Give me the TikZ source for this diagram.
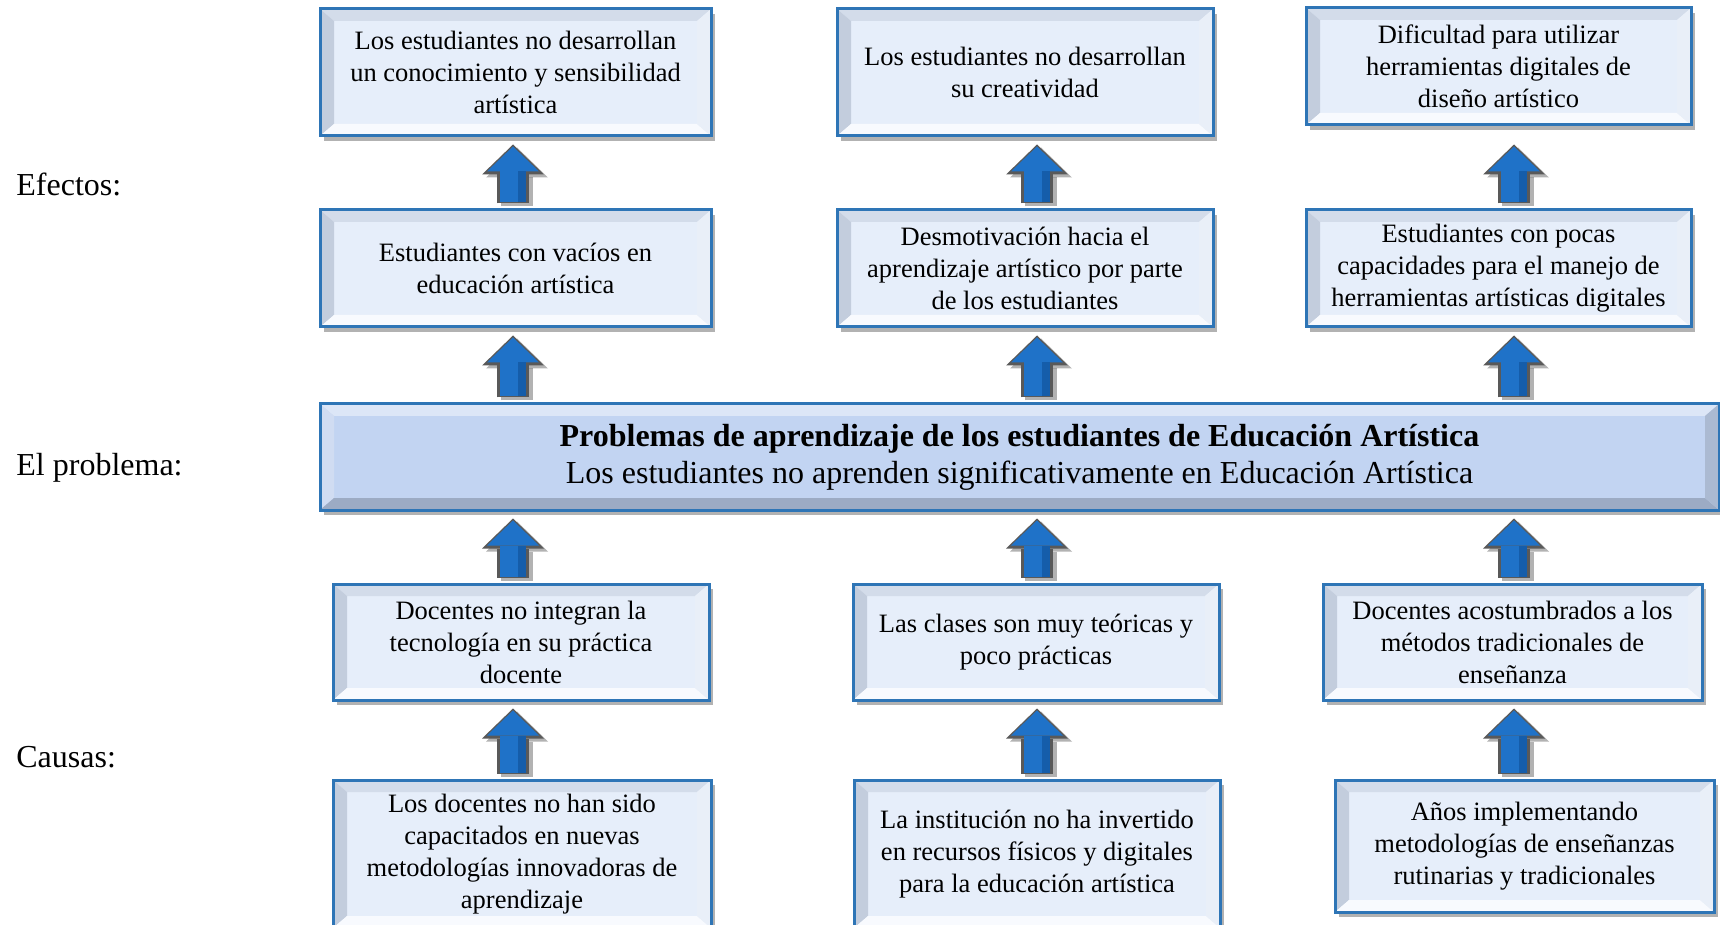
\documentclass[tikz,border=0pt]{standalone}
\usepackage{fontspec}
\setmainfont{Liberation Serif}
\usetikzlibrary{arrows.meta,positioning,shadows}

\definecolor{boxblue}{HTML}{2E75B6}
\definecolor{cardfill}{HTML}{E6EEFA}
\definecolor{cardtop}{HTML}{D3DCEA}
\definecolor{cardleft}{HTML}{C3CDDD}
\definecolor{cardbot}{HTML}{F8FAFE}
\definecolor{cardright}{HTML}{E9EFF8}
\definecolor{probfill}{HTML}{C2D4F2}
\definecolor{probtop}{HTML}{DCE6F7}
\definecolor{probleft}{HTML}{D0DCF2}
\definecolor{probbot}{HTML}{9CABC4}
\definecolor{probright}{HTML}{ABBAD2}
\definecolor{arrowblue}{HTML}{1F72C8}
\definecolor{arrowdeep}{HTML}{0F4F96}

\begin{document}
\begin{tikzpicture}[x=0.5pt,y=-0.5pt,
  bevel/.style n args={4}{path picture={
    \path (path picture bounding box.north west) coordinate (pnw)
          (path picture bounding box.north east) coordinate (pne)
          (path picture bounding box.south west) coordinate (psw)
          (path picture bounding box.south east) coordinate (pse);
    \fill[#1] (pnw) -- (pne) -- ([shift={(-7pt,-6pt)}]pne) -- ([shift={(7pt,-6pt)}]pnw) -- cycle;
    \fill[#2] (pnw) -- ([shift={(7pt,-6pt)}]pnw) -- ([shift={(7pt,6pt)}]psw) -- (psw) -- cycle;
    \fill[#3] (psw) -- ([shift={(7pt,6pt)}]psw) -- ([shift={(-7pt,6pt)}]pse) -- (pse) -- cycle;
    \fill[#4] (pse) -- ([shift={(-7pt,6pt)}]pse) -- ([shift={(-7pt,-6pt)}]pne) -- (pne) -- cycle;}},
  card/.style={bevel={cardtop}{cardleft}{cardbot}{cardright},fill=cardfill,draw=boxblue,line width=1.5pt,
    inner sep=0pt,align=center,font=\fontsize{13.25}{16}\selectfont,
    drop shadow={shadow xshift=2pt,shadow yshift=-2.5pt,opacity=.3,fill=black}},
  problem/.style={card,bevel={probtop}{probleft}{probbot}{probright},fill=probfill,
    font=\fontsize{16}{18.5}\selectfont},
  tag/.style={anchor=base west,inner sep=0pt,font=\fontsize{16}{19}\selectfont},
  arrowshadow/.style={draw=black,opacity=.3,line width=16pt,-{Triangle[width=31pt,length=15pt,line width=0pt]},
    shorten <=2.5pt,shorten >=3.5pt,transform canvas={xshift=2pt,yshift=-1.5pt}},
  arrowedge/.style={draw=gray!70!black,line width=16pt,-{Triangle[width=31pt,length=15pt,line width=0pt]},
    shorten <=2.5pt,shorten >=3.5pt},
  arrowbody/.style={draw=arrowblue,line width=13pt,-{Triangle[width=26pt,length=12.5pt,line width=0pt]},
    shorten <=3pt,shorten >=4.5pt},
  arrowdark/.style={draw=arrowdeep,opacity=.6,line width=4pt,shorten <=3pt,shorten >=17pt,
    transform canvas={xshift=4.5pt}}]
\useasboundingbox (0,0) rectangle (1720,925);
\clip (0,0) rectangle (1720,925);

% row labels
\node[tag] (efx) at (16,196) {Efectos:};
\node[tag] (prb) at (16,475) {El problema:};
\node[tag] (cau) at (16,767) {Causas:};

% effects
\node[card,minimum width=195.5pt,minimum height=63.5pt] (r1a) at (515.5,72.5) {Los estudiantes no desarrollan\\un conocimiento y sensibilidad\\artística};
\node[card,minimum width=188pt,minimum height=63.5pt] (r1b) at (1025,72.5) {Los estudiantes no desarrollan\\su creatividad};
\node[card,minimum width=192.5pt,minimum height=58.5pt] (r1c) at (1498.5,66.5) {Dificultad para utilizar\\herramientas digitales de\\diseño artístico};
\node[card,minimum width=195.5pt,minimum height=58.5pt] (r2a) at (515.5,268.5) {Estudiantes con vacíos en\\educación artística};
\node[card,minimum width=188pt,minimum height=58.5pt] (r2b) at (1025,268.5) {Desmotivación hacia el\\aprendizaje artístico por parte\\de los estudiantes};
\node[card,minimum width=192.5pt,minimum height=58.5pt] (r2c) at (1498.5,268.5) {Estudiantes con pocas\\capacidades para el manejo de\\herramientas artísticas digitales};

% problem
\node[problem,minimum width=699.5pt,minimum height=53pt] (prob) at (1019.5,457) {\textbf{Problemas de aprendizaje de los estudiantes de Educación Artística}\\Los estudiantes no aprenden significativamente en Educación Artística};

% causes
\node[card,minimum width=188pt,minimum height=58pt] (r4a) at (521,642) {Docentes no integran la\\tecnología en su práctica\\docente};
\node[card,minimum width=183pt,minimum height=58pt] (r4b) at (1036,642) {Las clases son muy teóricas y\\poco prácticas};
\node[card,minimum width=189.5pt,minimum height=58pt] (r4c) at (1512.5,642) {Docentes acostumbrados a los\\métodos tradicionales de\\enseñanza};
\node[card,minimum width=189pt,minimum height=74pt] (r5a) at (522,854) {Los docentes no han sido\\capacitados en nuevas\\metodologías innovadoras de\\aprendizaje};
\node[card,minimum width=183pt,minimum height=74pt] (r5b) at (1037,854) {La institución no ha invertido\\en recursos físicos y digitales\\para la educación artística};
\node[card,minimum width=189.5pt,minimum height=66pt] (r5c) at (1524.5,846) {Años implementando\\metodologías de enseñanzas\\rutinarias y tradicionales};

% block arrows (top one of column C lines up with the other columns)
\coordinate (colA) at (513,0);
\coordinate (colB) at (1037,0);
\coordinate (colC) at (1514,0);
\foreach \lo/\up/\col in {r2a/r1a/colA,r2b/r1b/colB,r2c/r1b/colC,
    prob/r2a/colA,prob/r2b/colB,prob/r2c/colC,
    r4a/prob/colA,r4b/prob/colB,r4c/prob/colC,
    r5a/r4a/colA,r5b/r4b/colB,r5c/r4c/colC}{
  \draw[arrowshadow] (\col |- \lo.north) -- (\col |- \up.south);
  \draw[arrowedge] (\col |- \lo.north) -- (\col |- \up.south);
  \draw[arrowbody] (\col |- \lo.north) -- (\col |- \up.south);
  \draw[arrowdark] (\col |- \lo.north) -- (\col |- \up.south);
}
\end{tikzpicture}
\end{document}
